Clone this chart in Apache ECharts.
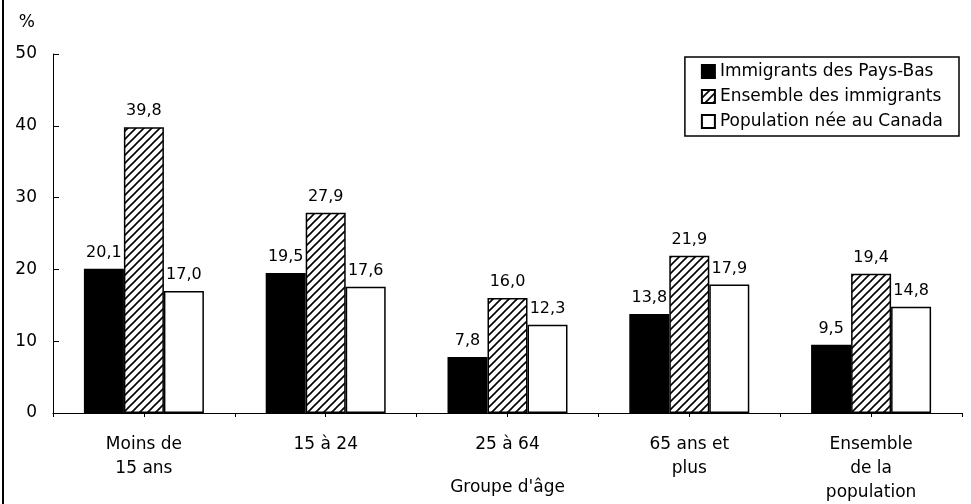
<!DOCTYPE html>
<html><head><meta charset="utf-8">
<script src="https://cdn.jsdelivr.net/npm/echarts@6/dist/echarts.min.js"></script>
<style>html,body{margin:0;padding:0;background:#fff}#c{width:971px;height:504px}</style>
</head><body><div id="c"></div>
<script>
const categories = ['Moins de\n15 ans', '15 à 24', '25 à 64', '65 ans et\nplus', 'Ensemble\nde la\npopulation'];
const seriesNames = ['Immigrants des Pays-Bas', 'Ensemble des immigrants', 'Population née au Canada'];
const paysBas = [20.1, 19.5, 7.8, 13.8, 9.5];
const ensembleImmigrants = [39.8, 27.9, 16.0, 21.9, 19.4];
const neeCanada = [17.0, 17.6, 12.3, 17.9, 14.8];
const yTicks = [0, 10, 20, 30, 40, 50];

const FONT = 'DejaVu Sans';
const hatch = document.createElement('canvas');
hatch.width = 8; hatch.height = 8;
const hc = hatch.getContext('2d');
hc.fillStyle = '#fff'; hc.fillRect(0,0,8,8);
hc.strokeStyle = '#000'; hc.lineWidth = 1.6;
hc.beginPath();
hc.moveTo(-2,10); hc.lineTo(10,-2);
hc.moveTo(-6,6); hc.lineTo(6,-6);
hc.moveTo(2,14); hc.lineTo(14,2);
hc.stroke();

const fmt = p => p.value.toFixed(1).replace('.', ',');
const lbl = {show: true, position: 'top', distance: 8, color: '#000', fontFamily: FONT, fontSize: 16, formatter: fmt};
const mk = (name, data, color) => ({
  name, type: 'bar', data, xAxisIndex: 0, barGap: 0, barCategoryGap: '34%',
  itemStyle: {color, borderColor: '#000', borderWidth: 1.5},
  label: lbl, emphasis: {disabled: true}
});

const chart = echarts.init(document.getElementById('c'));
chart.setOption({
  animation: false,
  backgroundColor: '#fff',
  textStyle: {fontFamily: FONT, color: '#000'},
  grid: {left: 53, right: 9, top: 54, bottom: 91, containLabel: false, outerBoundsMode: 'none'},
  legend: {
    orient: 'vertical', right: 12, top: 57,
    data: seriesNames,
    itemWidth: 13, itemHeight: 13, itemGap: 8,
    padding: [6, 16, 6, 16],
    borderColor: '#000', borderWidth: 1.5,
    icon: 'rect',
    textStyle: {fontFamily: FONT, fontSize: 17, color: '#000'},
    selectedMode: false
  },
  xAxis: [{
    type: 'category', data: categories,
    axisLine: {lineStyle: {color: '#000', width: 1}},
    axisTick: {show: false},
    axisLabel: {color: '#000', fontFamily: FONT, fontSize: 17, lineHeight: 24, margin: 20, interval: 0},
    name: "Groupe d'âge", nameLocation: 'middle', nameGap: 66, nameMoveOverlap: false,
    nameTextStyle: {color: '#000', fontFamily: FONT, fontSize: 17}
  }, {
    type: 'category', data: categories.flatMap((c, i) => ['a' + i, 'b' + i]),
    position: 'bottom',
    axisLine: {show: false},
    axisTick: {show: true, length: 4, lineStyle: {color: '#000'}, interval: 0},
    axisLabel: {show: false}
  }],
  yAxis: {
    type: 'value', min: yTicks[0], max: yTicks[yTicks.length - 1], interval: 10,
    axisLine: {show: true, lineStyle: {color: '#000', width: 1}},
    axisTick: {show: true, inside: true, length: 6, lineStyle: {color: '#000'}},
    splitLine: {show: false},
    axisLabel: {color: '#000', fontFamily: FONT, fontSize: 17, margin: 16},
    name: '%', nameLocation: 'end', nameGap: 31,
    nameTextStyle: {color: '#000', fontFamily: FONT, fontSize: 17, align: 'right', verticalAlign: 'middle', padding: [0, 18, 0, 0]}
  },
  graphic: [{type: 'line', shape: {x1: 3, y1: 0, x2: 3, y2: 504}, style: {stroke: '#000', lineWidth: 2}}],
  series: [
    mk(seriesNames[0], paysBas, '#000'),
    mk(seriesNames[1], ensembleImmigrants, {image: hatch, repeat: 'repeat'}),
    mk(seriesNames[2], neeCanada, '#fff')
  ]
});
</script></body></html>
